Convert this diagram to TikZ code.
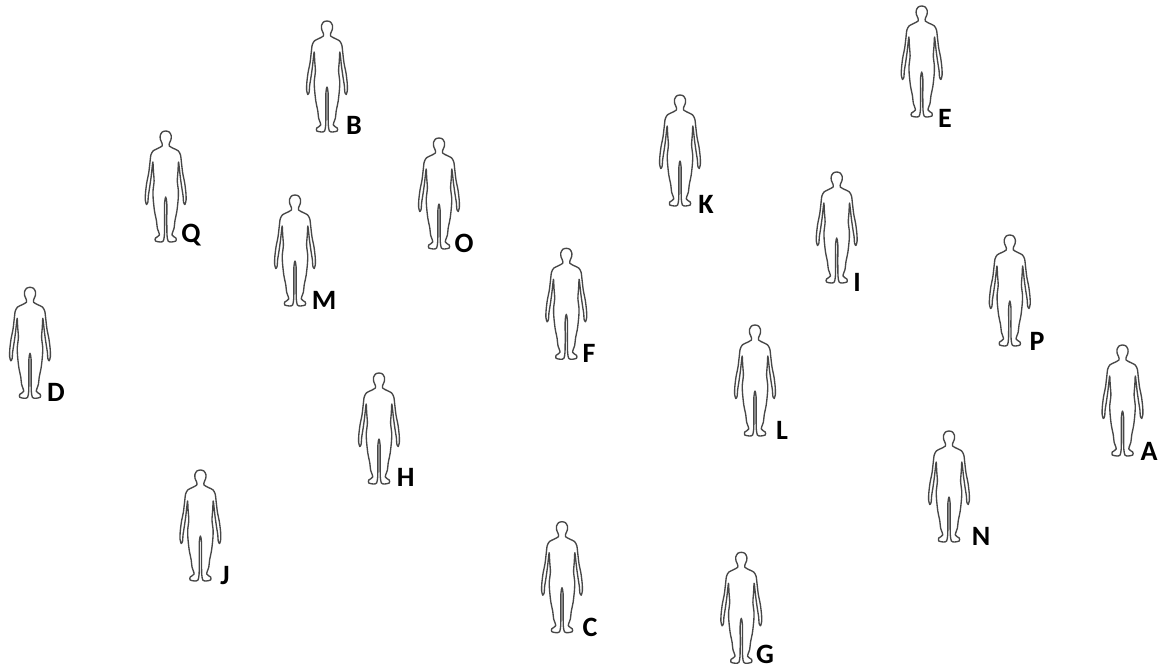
\documentclass[tikz,border=0pt]{standalone}
\usepackage{fontspec}
\setmainfont{Carlito}
\begin{document}
\begin{tikzpicture}[x=1pt,y=-1pt,
  figline/.style={draw=black!72,line width=1.35pt,line join=round,fill=white},
  lbl/.style={inner sep=0pt,font=\fontsize{28}{28}\selectfont\bfseries,text=black},
  person/.pic={
    \path[figline] plot[smooth cycle,tension=0.45] coordinates {
      (0,0) (3.5,1) (5.5,4.5) (5.3,8.5) (3.8,12) (3.6,15) (8,17.5) (12.5,19.8)
      (14.8,24) (15.8,32) (17,42) (19,52) (20.2,62) (20.4,69) (19.2,73.5)
      (17.8,71) (17.4,65) (16,56) (14.6,46) (13.6,37) (12.8,31) (12.3,40)
      (11.6,50) (12.7,60) (12.5,68) (11.2,80) (9.2,90) (8.4,97) (6.3,104)
      (10.2,107) (10.2,110) (5.5,111) (2.4,110) (1.3,104) (1.1,90) (1.1,72)
      (0,66)
      (-1.1,72) (-1.1,90) (-1.3,104) (-2.4,110) (-5.5,111) (-10.2,110)
      (-10.2,107) (-6.3,104) (-8.4,97) (-9.2,90) (-11.2,80) (-12.5,68) (-12.7,60)
      (-11.6,50) (-12.3,40) (-12.8,31) (-13.6,37) (-14.6,46) (-16,56) (-17.4,65)
      (-17.8,71) (-19.2,73.5) (-20.4,69) (-20.2,62) (-19,52) (-17,42)
      (-15.8,32) (-14.8,24) (-12.5,19.8) (-8,17.5) (-3.6,15) (-3.8,12)
      (-5.3,8.5) (-5.5,4.5) (-3.5,1)};
  }]
\useasboundingbox[fill=white] (0,0) rectangle (1162,670);
% figures: head-top positions
\pic (figB) at (327,21) {person};
\pic (figE) at (921.7,6) {person};
\pic (figQ) at (165.7,131) {person};
\pic (figO) at (439,138) {person};
\pic (figK) at (680,95) {person};
\pic (figM) at (295,195) {person};
\pic (figI) at (836.7,172) {person};
\pic (figD) at (30,287.3) {person};
\pic (figF) at (566.3,248.3) {person};
\pic (figP) at (1009.8,235) {person};
\pic (figL) at (755,325) {person};
\pic (figA) at (1122.5,345) {person};
\pic (figH) at (379,373) {person};
\pic (figN) at (949,431) {person};
\pic (figJ) at (200.4,470) {person};
\pic (figC) at (562,521.7) {person};
\pic (figG) at (741.3,552.3) {person};
% labels
\node[lbl] (labB) at (354,125) {B};
\node[lbl] (labE) at (945,118) {E};
\node[lbl] (labQ) at (191,235) {Q};
\node[lbl] (labO) at (464,243) {O};
\node[lbl] (labK) at (706,204) {K};
\node[lbl] (labM) at (324,300) {M};
\node[lbl] (labI) at (857,282) {I};
\node[lbl] (labD) at (56,392) {D};
\node[lbl] (labF) at (589,353) {F};
\node[lbl] (labP) at (1037,341) {P};
\node[lbl] (labL) at (782,430) {L};
\node[lbl] (labA) at (1149,451) {A};
\node[lbl] (labH) at (405.6,477) {H};
\node[lbl] (labN) at (981,536) {N};
\node[lbl] (labJ) at (225,576) {J};
\node[lbl] (labC) at (590,627) {C};
\node[lbl] (labG) at (765,654) {G};
\end{tikzpicture}
\end{document}
